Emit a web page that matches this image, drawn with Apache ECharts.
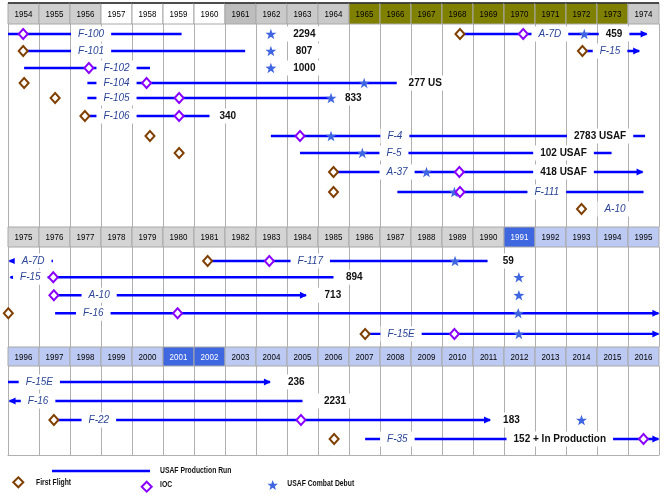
<!DOCTYPE html>
<html><head><meta charset="utf-8">
<script src="https://cdn.jsdelivr.net/npm/echarts@6/dist/echarts.min.js"></script>
<style>html,body{margin:0;padding:0;background:#fff}#c{width:666px;height:500px}</style>
</head><body><div id="c"></div><script>
// ---------------- DATA ----------------
const panelYears0 = [1954,1955,1956,1957,1958,1959,1960,1961,1962,1963,1964,1965,1966,1967,1968,1969,1970,1971,1972,1973,1974];
const panelYears1 = [1975,1976,1977,1978,1979,1980,1981,1982,1983,1984,1985,1986,1987,1988,1989,1990,1991,1992,1993,1994,1995];
const panelYears2 = [1996,1997,1998,1999,2000,2001,2002,2003,2004,2005,2006,2007,2008,2009,2010,2011,2012,2013,2014,2015,2016];

// production runs: [panel, lane, from, to, arrow(1 right,-1 left,0 none)]
const productionRuns = [
  [0, 0,    1954.00, 1959.60, 0],
  [0, 0.97, 1954.49, 1961.65, 0],
  [0, 1.94, 1954.52, 1958.58, 0],
  [0, 2.8,  1956.56, 1966.54, 0],
  [0, 3.66, 1956.56, 1964.42, 0],
  [0, 4.69, 1956.56, 1960.50, 0],
  [0, 5.83, 1962.48, 1974.55, 0],
  [0, 6.8,  1963.42, 1973.47, 0],
  [0, 7.89, 1964.50, 1974.47, 1],
  [0, 9.03, 1966.56, 1974.50, 0],
  [0, 0,    1968.58, 1974.60, 1],
  [0, 0.97, 1972.53, 1974.36, 1],
  [1, 0,    1975.05, 1976.45, -1],
  [1, 0,    1981.44, 1990.47, 0],
  [1, 0.9,  1975.08, 1985.50, -1],
  [1, 1.9,  1976.48, 1984.61, 1],
  [1, 2.9,  1976.52, 1995.98, 1],
  [1, 4.05, 1986.52, 1995.98, 1],
  [2, 0,    1996.00, 2004.45, 1],
  [2, 1,    1996.05, 2005.50, -1],
  [2, 2,    1997.48, 2011.55, 1],
  [2, 3,    2007.52, 2016.98, 1]
];

// aircraft names: [panel, lane, year, text]
const aircraftNames = [
  [0, 0,    1956.68, 'F-100'],
  [0, 0.97, 1956.68, 'F-101'],
  [0, 1.94, 1957.50, 'F-102'],
  [0, 2.8,  1957.50, 'F-104'],
  [0, 3.66, 1957.50, 'F-105'],
  [0, 4.69, 1957.50, 'F-106'],
  [0, 5.83, 1966.48, 'F-4'],
  [0, 6.8,  1966.45, 'F-5'],
  [0, 7.89, 1966.55, 'A-37'],
  [0, 9.03, 1971.38, 'F-111'],
  [0, 10,   1973.58, 'A-10'],
  [0, 0,    1971.48, 'A-7D'],
  [0, 0.97, 1973.42, 'F-15'],
  [1, 0,    1975.81, 'A-7D'],
  [1, 0,    1984.75, 'F-117'],
  [1, 0.9,  1975.72, 'F-15'],
  [1, 1.9,  1977.94, 'A-10'],
  [1, 2.9,  1977.75, 'F-16'],
  [1, 4.05, 1987.68, 'F-15E'],
  [2, 0,    1997.01, 'F-15E'],
  [2, 1,    1996.97, 'F-16'],
  [2, 2,    1998.93, 'F-22'],
  [2, 3,    2008.56, 'F-35']
];

// USAF production counts: [panel, lane, year, text]
const productionCounts = [
  [0, 0,    1963.56, '2294'],
  [0, 0.97, 1963.55, '807'],
  [0, 1.94, 1963.56, '1000'],
  [0, 2.8,  1967.46, '277 US'],
  [0, 3.66, 1965.14, '833'],
  [0, 4.69, 1961.09, '340'],
  [0, 5.83, 1973.10, '2783 USAF'],
  [0, 6.8,  1971.92, '102 USAF'],
  [0, 7.89, 1971.92, '418 USAF'],
  [0, 0,    1973.55, '459'],
  [1, 0,    1991.14, '59'],
  [1, 0.9,  1986.17, '894'],
  [1, 1.9,  1985.48, '713'],
  [2, 0,    2005.30, '236'],
  [2, 1,    2006.55, '2231'],
  [2, 2,    2012.24, '183'],
  [2, 3,    2013.80, '152 + In Production']
];

// first flights: [panel, lane, year]
const firstFlights = [
  [0, 0.97, 1954.49], [0, 2.8, 1954.52], [0, 3.66, 1955.52], [0, 4.69, 1956.48],
  [0, 5.83, 1958.58], [0, 6.8, 1959.52], [0, 7.89, 1964.50], [0, 9.03, 1964.50],
  [0, 10, 1972.50], [0, 0, 1968.58], [0, 0.97, 1972.53],
  [1, 0, 1981.44], [1, 2.9, 1975.01], [1, 4.05, 1986.52],
  [2, 2, 1997.48], [2, 3, 2006.52]
];

// initial operational capability: [panel, lane, year]
const iocDates = [
  [0, 0, 1954.49], [0, 1.94, 1956.61], [0, 2.8, 1958.47], [0, 3.66, 1959.52],
  [0, 4.69, 1959.52], [0, 5.83, 1963.42], [0, 7.89, 1968.56], [0, 9.03, 1968.58],
  [0, 0, 1970.62],
  [1, 0, 1983.43], [1, 0.9, 1976.46], [1, 1.9, 1976.48], [1, 2.9, 1980.47], [1, 4.05, 1989.40],
  [2, 2, 2005.45], [2, 3, 2016.50]
];

// USAF combat debut: [panel, lane, year]
const combatDebuts = [
  [0, 0, 1962.48], [0, 0.97, 1962.48], [0, 1.94, 1962.48], [0, 2.8, 1965.49],
  [0, 3.66, 1964.42], [0, 5.83, 1964.42], [0, 6.8, 1965.43], [0, 7.89, 1967.50],
  [0, 9.03, 1968.40], [0, 0, 1972.59],
  [1, 0, 1989.42], [1, 0.9, 1991.48], [1, 1.9, 1991.48], [1, 2.9, 1991.46], [1, 4.05, 1991.48],
  [2, 2, 2014.50]
];

const legendLabels = ['USAF Production Run', 'First Flight', 'IOC', 'USAF Combat Debut'];

// ---------------- STYLE / LAYOUT ----------------
const panelYears = [panelYears0, panelYears1, panelYears2];
const BLUE = '#0000ff', BROWN = '#7f3f00', PURPLE = '#8a00ff', STAR = '#3f66e0';
const FONT = '"Liberation Sans", Arial, sans-serif';
const STAR_PATH = 'path://M0,-10 L2.35,-3.24 L9.51,-3.09 L3.8,1.24 L5.88,8.09 L0,4 L-5.88,8.09 L-3.8,1.24 L-9.51,-3.09 L-2.35,-3.24 Z';
const layout = [
  {head: [3, 21],   body: [24, 203],  yMin: -0.571, yMax: 11.029},
  {head: [227, 20], body: [247, 100], yMin: -0.778, yMax: 4.778},
  {head: [347, 19], body: [366, 89],  yMin: -0.842, yMax: 3.842}
];
function headerFill(y) {
  if (y >= 1957 && y <= 1960) return '#ffffff';
  if (y === 1961) return '#bdbdbd';
  if (y >= 1962 && y <= 1964) return '#c9c9c9';
  if (y >= 1965 && y <= 1973) return '#808000';
  if (y === 1974) return '#c9c9c9';
  if (y === 1991 || y === 2001 || y === 2002) return '#3f67df';
  if (y >= 1992) return '#bccaf3';
  if (y >= 1975) return '#d4d4d4';
  return '#cfcfcf';
}
function headerText(y) {
  return (y === 1991 || y === 2001 || y === 2002) ? '#ffffff' : '#000000';
}

const grids = [], xAxes = [], yAxes = [], series = [];
layout.forEach((L, p) => {
  const y0 = panelYears[p][0];
  const yN = panelYears[p][panelYears[p].length - 1] + 1;
  grids.push({left: 8, width: 651, top: L.head[0], height: L.head[1], outerBoundsMode: 'none'});
  grids.push({left: 8, width: 651, top: L.body[0], height: L.body[1], outerBoundsMode: 'none'});
  const hi = p * 2, bi = p * 2 + 1;
  xAxes.push({gridIndex: hi, type: 'value', min: y0, max: yN, interval: 1, show: false});
  xAxes.push({gridIndex: bi, type: 'value', min: y0, max: yN, interval: 1,
    axisLabel: {show: false}, axisTick: {show: false},
    axisLine: {show: p === 2, onZero: false, lineStyle: {color: '#b0b0b0', width: 1}},
    splitLine: {show: true, showMinLine: true, showMaxLine: true, lineStyle: {color: '#b0b0b0', width: 1}}});
  yAxes.push({gridIndex: hi, type: 'value', min: 0, max: 1, inverse: true, show: false});
  yAxes.push({gridIndex: bi, type: 'value', min: L.yMin, max: L.yMax, inverse: true, show: false,
    splitLine: {show: false}});

  // header cells
  series.push({
    type: 'custom', xAxisIndex: hi, yAxisIndex: hi, z: 2, silent: true,
    data: panelYears[p].map(y => [y]),
    renderItem: (params, api) => {
      const y = api.value(0);
      const a = api.coord([y, 0]), b = api.coord([y + 1, 1]);
      const children = [
        {type: 'rect', shape: {x: a[0], y: a[1], width: b[0] - a[0], height: b[1] - a[1]},
          style: {fill: headerFill(y), stroke: '#a8a8a8', lineWidth: 1}},
        {type: 'text', x: (a[0] + b[0]) / 2, y: (a[1] + b[1]) / 2 + 0.5, scaleX: 0.84,
          style: {text: String(y), align: 'center', verticalAlign: 'middle', font: '9.5px ' + FONT, fill: headerText(y)}}
      ];
      if (p === 0) children.push({type: 'line', shape: {x1: a[0], y1: a[1], x2: b[0], y2: a[1]},
        style: {stroke: '#222', lineWidth: 1.5}});
      return {type: 'group', children};
    }
  });

  // production runs
  const runs = productionRuns.filter(r => r[0] === p);
  series.push({
    type: 'custom', xAxisIndex: bi, yAxisIndex: bi, z: 3, silent: true,
    data: runs.map(r => [r[2], r[3], r[1], r[4]]),
    renderItem: (params, api) => {
      const lane = api.value(2), arrow = api.value(3);
      const a = api.coord([api.value(0), lane]), b = api.coord([api.value(1), lane]);
      const children = [{type: 'line', shape: {x1: a[0], y1: a[1], x2: b[0], y2: b[1]},
        style: {stroke: BLUE, lineWidth: 2.4}}];
      if (arrow === 1) children.push({type: 'polygon', shape: {points: [[b[0] + 1, b[1]], [b[0] - 6, b[1] - 3.5], [b[0] - 6, b[1] + 3.5]]}, style: {fill: BLUE}});
      if (arrow === -1) children.push({type: 'polygon', shape: {points: [[a[0] - 1, a[1]], [a[0] + 6, a[1] - 3.5], [a[0] + 6, a[1] + 3.5]]}, style: {fill: BLUE}});
      return {type: 'group', children};
    }
  });

  // text labels (names and counts)
  function labelSeries(list, font, color) {
    const items = list.filter(r => r[0] === p);
    return {
      type: 'custom', xAxisIndex: bi, yAxisIndex: bi, z: 4, silent: true,
      data: items.map(r => [r[2], r[1]]),
      renderItem: (params, api) => {
        const c = api.coord([api.value(0), api.value(1)]);
        return {type: 'text', x: c[0], y: c[1],
          style: {text: items[params.dataIndex][3], align: 'center', verticalAlign: 'middle',
            font: font, fill: color, backgroundColor: '#ffffff', padding: [3, 7, 2, 7]}};
      }
    };
  }
  series.push(labelSeries(aircraftNames, 'italic 10px ' + FONT, '#2b4597'));
  series.push(labelSeries(productionCounts, 'bold 10px ' + FONT, '#111111'));

  // markers
  const pick = list => list.filter(r => r[0] === p).map(r => [r[2], r[1]]);
  series.push({type: 'scatter', xAxisIndex: bi, yAxisIndex: bi, z: 5, silent: true,
    symbol: STAR_PATH, symbolSize: [11, 10.5], itemStyle: {color: STAR, opacity: 1},
    data: pick(combatDebuts)});
  series.push({type: 'scatter', xAxisIndex: bi, yAxisIndex: bi, z: 6, silent: true,
    symbol: 'diamond', symbolSize: [9, 10], itemStyle: {color: '#ffffff', borderColor: BROWN, borderWidth: 2, opacity: 1},
    data: pick(firstFlights)});
  series.push({type: 'scatter', xAxisIndex: bi, yAxisIndex: bi, z: 6, silent: true,
    symbol: 'diamond', symbolSize: [9, 10], itemStyle: {color: '#ffffff', borderColor: PURPLE, borderWidth: 2, opacity: 1},
    data: pick(iocDates)});
});

// legend (drawn as graphic)
function starPoints(cx, cy, R, r) {
  const pts = [];
  for (let i = 0; i < 10; i++) {
    const ang = -Math.PI / 2 + i * Math.PI / 5;
    const rr = i % 2 === 0 ? R : r;
    pts.push([cx + rr * Math.cos(ang), cy + rr * Math.sin(ang)]);
  }
  return pts;
}
const legendFont = 'bold 8.5px ' + FONT;
const graphic = [
  {type: 'line', shape: {x1: 52, y1: 471, x2: 150, y2: 471}, style: {stroke: BLUE, lineWidth: 2.4}},
  {type: 'text', x: 160, y: 471, scaleX: 0.8, style: {text: legendLabels[0], font: legendFont, fill: '#111', verticalAlign: 'middle'}},
  {type: 'polygon', shape: {points: [[18.3, 477.3], [23.3, 482.3], [18.3, 487.3], [13.3, 482.3]]}, style: {fill: '#fff', stroke: BROWN, lineWidth: 2}},
  {type: 'text', x: 36, y: 482.5, scaleX: 0.8, style: {text: legendLabels[1], font: legendFont, fill: '#111', verticalAlign: 'middle'}},
  {type: 'polygon', shape: {points: [[146.7, 481.7], [151.7, 486.7], [146.7, 491.7], [141.7, 486.7]]}, style: {fill: '#fff', stroke: PURPLE, lineWidth: 2}},
  {type: 'text', x: 160, y: 484.5, scaleX: 0.8, style: {text: legendLabels[2], font: legendFont, fill: '#111', verticalAlign: 'middle'}},
  {type: 'polygon', shape: {points: starPoints(272.7, 485.5, 5.5, 2.3)}, style: {fill: STAR}},
  {type: 'text', x: 287.3, y: 483.5, scaleX: 0.8, style: {text: legendLabels[3], font: legendFont, fill: '#111', verticalAlign: 'middle'}}
];

const chart = echarts.init(document.getElementById('c'), null, {renderer: 'canvas'});
chart.setOption({
  animation: false,
  backgroundColor: '#ffffff',
  grid: grids, xAxis: xAxes, yAxis: yAxes, series: series, graphic: graphic
});
</script></body></html>
